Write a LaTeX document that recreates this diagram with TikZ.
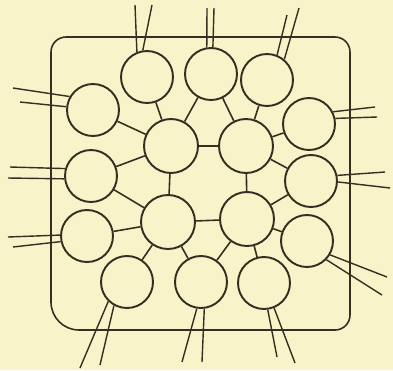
\documentclass[tikz,border=0pt]{standalone}
\usepackage{xcolor}
\usepackage{tikz}
\definecolor{paper}{RGB}{249,243,201}
\definecolor{ink}{RGB}{58,44,34}

\begin{document}
\begin{tikzpicture}[
  x=0.02cm, y=-0.02cm,
  cell/.style={circle, draw=ink, line width=1.1pt, minimum size=1.04cm, inner sep=0pt},
  core/.style={cell, minimum size=1.08cm},
  link/.style={draw=ink, line width=0.9pt},
  wire/.style={draw=ink, line width=0.8pt},
  frame/.style={draw=ink, line width=0.9pt, rounded corners=0.3cm}
]
\fill[paper] (0,0) rectangle (393,370);
\useasboundingbox (0,0) rectangle (393,370);

% Enclosure
\draw[frame] (51,180) -- (51,37) -- (350,37) -- (350,330) -- (200,330)
  [rounded corners=0.56cm] -- (51,330) -- (51,180);

% Outer ring of cells
\node[cell] (o1) at (147,77) {};
\node[cell] (o2) at (211,74) {};
\node[cell] (o3) at (267,80) {};
\node[cell] (o4) at (309,124) {};
\node[cell] (o5) at (311,181) {};
\node[cell] (o6) at (307,241) {};
\node[cell] (o7) at (264,283) {};
\node[cell] (o8) at (201,282) {};
\node[cell] (o9) at (127,282) {};
\node[cell] (o10) at (87,236) {};
\node[cell] (o11) at (91,176) {};
\node[cell] (o12) at (93,110) {};

% Inner cells
\node[core] (i1) at (171,146) {};
\node[core] (i2) at (246,146) {};
\node[core] (i3) at (168,222) {};
\node[core] (i4) at (247,219) {};

% Links
\draw[link] (o1) -- (i1);
\draw[link] (o12) -- (i1);
\draw[link] (o11) -- (i1);
\draw[link] (o2) -- (i1);
\draw[link] (i1) -- (i2);
\draw[link] (i1) -- (i3);
\draw[link] (o2) -- (i2);
\draw[link] (o3) -- (i2);
\draw[link] (o4) -- (i2);
\draw[link] (i2) -- (o5);
\draw[link] (i2) -- (i4);
\draw[link] (i4) -- (o5);
\draw[link] (i4) -- (o6);
\draw[link] (i3) -- (i4);
\draw[link] (i4) -- (o8);
\draw[link] (i4) -- (o7);
\draw[link] (i3) -- (o9);
\draw[link] (i3) -- (o8);
\draw[link] (i3) -- (o10);
\draw[link] (o11) -- (i3);

% Free ends of the leads
\coordinate (e1a) at (135,5);   \coordinate (e1b) at (152,5);
\coordinate (e2a) at (207,8);   \coordinate (e2b) at (214,8);
\coordinate (e3a) at (287,15);  \coordinate (e3b) at (299,8);
\coordinate (e4a) at (375,107); \coordinate (e4b) at (377,117);
\coordinate (e5a) at (385,172); \coordinate (e5b) at (390,188);
\coordinate (e6a) at (387,277); \coordinate (e6b) at (382,295);
\coordinate (e7a) at (277,357); \coordinate (e7b) at (295,363);
\coordinate (e8a) at (182,362); \coordinate (e8b) at (202,362);
\coordinate (e9a) at (80,368);  \coordinate (e9b) at (100,365);
\coordinate (e10a) at (8,237);  \coordinate (e10b) at (13,247);
\coordinate (e11a) at (10,167); \coordinate (e11b) at (8,178);
\coordinate (e12a) at (13,88);  \coordinate (e12b) at (20,102);

% Leads
\draw[wire] (o1.112) -- (e1a) (o1.99) -- (e1b);
\draw[wire] (o2.99) -- (e2a) (o2.86) -- (e2b);
\draw[wire] (o3.68) -- (e3a) (o3.50) -- (e3b);
\draw[wire] (o4.27) -- (e4a) (o4.12) -- (e4b);
\draw[wire] (o5.12) -- (e5a) (o5.-2) -- (e5b);
\draw[wire] (o6.-31) -- (e6a) (o6.-44) -- (e6b);
\draw[wire] (o7.-82) -- (e7a) (o7.-68) -- (e7b);
\draw[wire] (o8.-99) -- (e8a) (o8.-83) -- (e8b);
\draw[wire] (o9.-134) -- (e9a) (o9.-119) -- (e9b);
\draw[wire] (o10.178) -- (e10a) (o10.-168) -- (e10b);
\draw[wire] (o11.164) -- (e11a) (o11.186) -- (e11b);
\draw[wire] (o12.150) -- (e12a) (o12.173) -- (e12b);
\end{tikzpicture}
\end{document}
